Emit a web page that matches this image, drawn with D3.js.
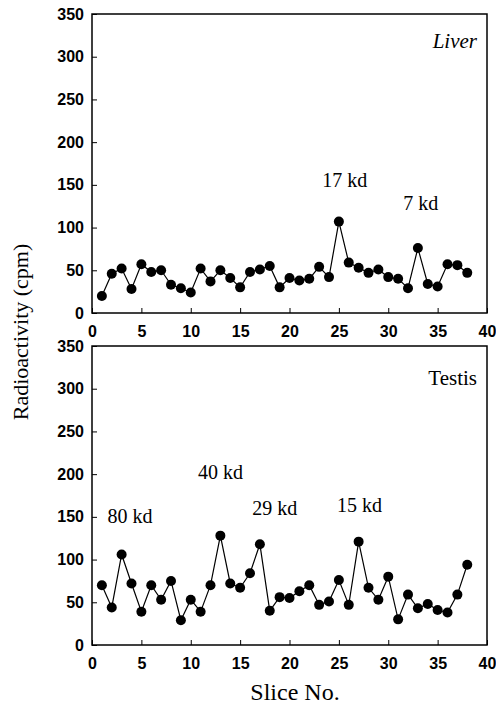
<!DOCTYPE html>
<html>
<head>
<meta charset="utf-8">
<script src="https://cdn.jsdelivr.net/npm/d3@7"></script>
<style>
  body { margin: 0; background: #fff; }
  svg { display: block; }
</style>
</head>
<body>
<div id="chart"></div>
<script>
// slice numbers and counts
var slices = [1,2,3,4,5,6,7,8,9,10,11,12,13,14,15,16,17,18,19,20,
              21,22,23,24,25,26,27,28,29,30,31,32,33,34,35,36,37,38];
var liver = [20,46,52,28,57,48,50,33,29,24,52,37,50,41,30,48,51,55,30,41,
             38,40,54,42,107,59,53,47,51,42,40,29,76,34,31,57,56,47];
var testis = [70,44,106,72,39,70,53,75,29,53,39,70,128,72,67,84,118,40,56,55,
              63,70,47,51,76,47,121,67,53,80,30,59,43,48,41,38,59,94];
var yTicks = [0,50,100,150,200,250,300,350];
var xTicks = [0,5,10,15,20,25,30,35,40];
var liverLabels = ["17 kd", "7 kd"];
var testisLabels = ["80 kd", "40 kd", "29 kd", "15 kd"];

var width = 496, height = 705;
var svg = d3.select("#chart").append("svg")
    .attr("width", width)
    .attr("height", height);

var x = d3.scaleLinear().domain([0, 40]).range([92, 487]);

var serif = "'Liberation Serif', 'Times New Roman', serif";
var sans = "'Liberation Sans', Arial, sans-serif";

function panel(values, top, bottom, name, labels, labelPos) {
    var y = d3.scaleLinear().domain([0, 350]).range([bottom, top]);

    svg.append("rect")
        .attr("x", x(0)).attr("y", y(350))
        .attr("width", x(40) - x(0)).attr("height", y(0) - y(350))
        .attr("fill", "none").attr("stroke", "#000").attr("stroke-width", 1.5);

    var gy = svg.append("g")
        .attr("transform", "translate(" + x(0) + ",0)")
        .call(d3.axisLeft(y).tickValues(yTicks).tickSize(-5).tickSizeOuter(0).tickPadding(8));
    var gx = svg.append("g")
        .attr("transform", "translate(0," + y(0) + ")")
        .call(d3.axisBottom(x).tickValues(xTicks).tickSize(-5).tickSizeOuter(0).tickPadding(13));

    [gx, gy].forEach(function(g) {
        g.select(".domain").remove();
        g.selectAll("line").attr("stroke", "#000").attr("stroke-width", 1);
        g.selectAll("text")
            .attr("fill", "#000")
            .style("font-family", sans)
            .style("font-weight", "bold")
            .style("font-size", "16px");
    });

    var line = d3.line()
        .x(function(d, i) { return x(slices[i]); })
        .y(function(d) { return y(d); });

    svg.append("path")
        .datum(values)
        .attr("d", line)
        .attr("fill", "none")
        .attr("stroke", "#000")
        .attr("stroke-width", 1.2);

    svg.selectAll(null)
        .data(values)
        .join("circle")
        .attr("cx", function(d, i) { return x(slices[i]); })
        .attr("cy", function(d) { return y(d); })
        .attr("r", 5)
        .attr("fill", "#000");

    svg.append("text")
        .attr("x", 477)
        .attr("y", y(name.v))
        .attr("text-anchor", "end")
        .style("font-family", serif)
        .style("font-style", name.italic ? "italic" : "normal")
        .style("font-size", "21px")
        .text(name.t);

    labels.forEach(function(t, i) {
        svg.append("text")
            .attr("x", x(labelPos[i][0]))
            .attr("y", y(labelPos[i][1]))
            .attr("text-anchor", "middle")
            .style("font-family", serif)
            .style("font-size", "20px")
            .text(t);
    });
}

panel(liver, 14, 313, {t: "Liver", v: 310, italic: true},
      liverLabels, [[25.6, 147], [33.3, 120]]);
panel(testis, 346, 645, {t: "Testis", v: 304, italic: false},
      testisLabels, [[3.85, 143], [13, 194], [18.5, 152], [27.1, 156]]);

svg.append("text")
    .attr("transform", "translate(28,332) rotate(-90)")
    .attr("text-anchor", "middle")
    .style("font-family", serif)
    .style("font-size", "22px")
    .text("Radioactivity (cpm)");

svg.append("text")
    .attr("x", 295)
    .attr("y", 700)
    .attr("text-anchor", "middle")
    .style("font-family", serif)
    .style("font-size", "24px")
    .text("Slice No.");
</script>
</body>
</html>
